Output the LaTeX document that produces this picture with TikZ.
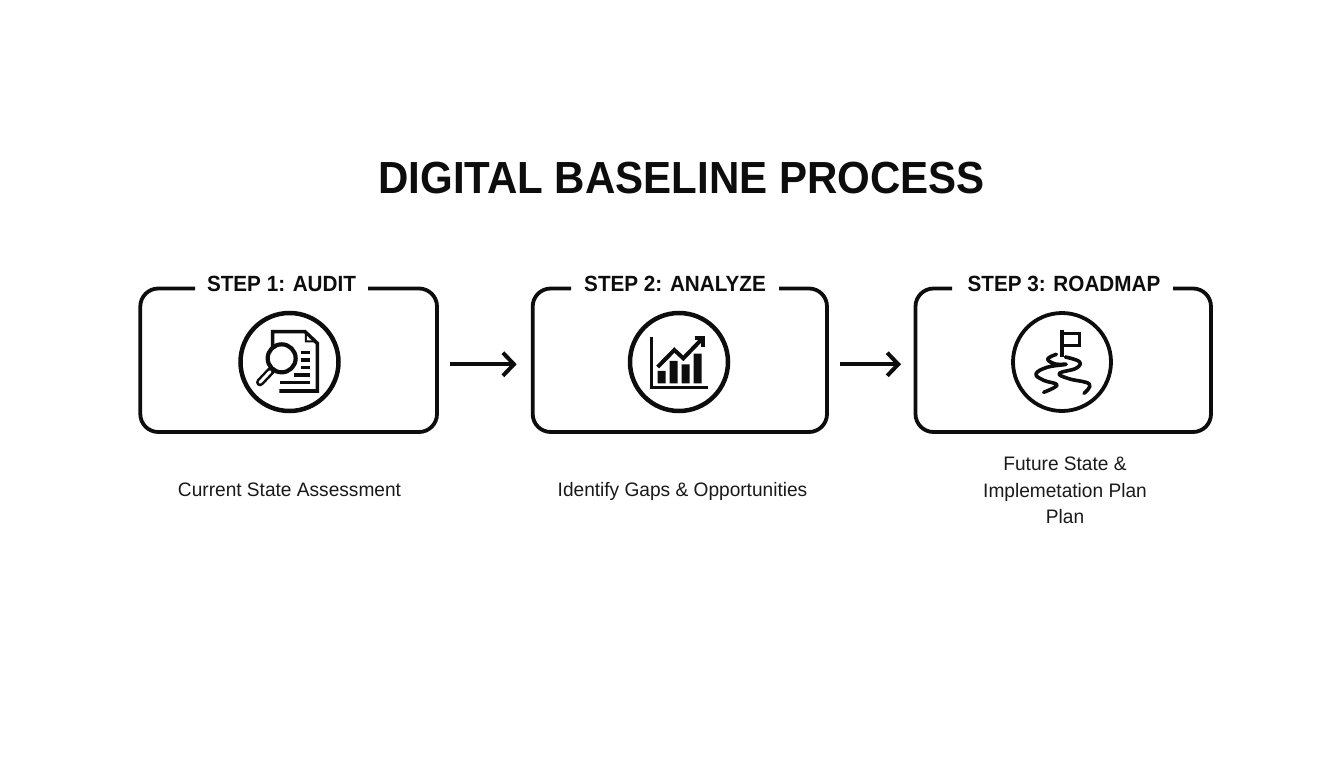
\documentclass[tikz,border=0pt]{standalone}
\usepackage{fontspec}
\setmainfont{Liberation Sans}
\newfontfamily\titlefont[FakeStretch=0.934]{Liberation Sans}
\newfontfamily\stepfont[FakeStretch=0.94]{Liberation Sans}
\newfontfamily\descfont[FakeStretch=0.98]{Liberation Sans}
\usetikzlibrary{arrows.meta}
\tikzset{
  stepbox/.style={minimum width=#1,minimum height=143.5pt,inner sep=0pt,outer sep=0pt},
  frame/.style={line width=3.8pt,rounded corners=18pt,black!95!white},
  steptitle/.style={font=\stepfont\bfseries\fontsize{22}{26}\selectfont,inner sep=0pt,text=black!95!white},
  desc/.style={font=\descfont\fontsize{19.5}{26.5}\selectfont,inner sep=0pt,align=center,text=black!90!white},
  ring/.style={circle,draw=black!95!white,line width=4.5pt,minimum size=98pt,inner sep=0pt},
  flow/.style={line width=4pt,black!95!white,-{Straight Barb[length=11pt,width=23pt,line width=4pt]}},
  ink/.style={line width=#1,black!95!white,line cap=round,line join=round},
  ink/.default=3pt
}
\begin{document}
\begin{tikzpicture}[x=1pt,y=-1pt]
\useasboundingbox (0,0) rectangle (1344,768);
\fill[white] (0,0) rectangle (1344,768);

\node[font=\titlefont\bfseries\fontsize{45}{50}\selectfont,inner sep=0pt,text=black!95!white] (title) at (681.5,178) {DIGITAL BASELINE PROCESS};

% boxes
\node[stepbox=296.7pt] (b1) at (288.65,360.25) {};
\node[stepbox=294.3pt] (b2) at (679.85,360.25) {};
\node[stepbox=295.5pt] (b3) at (1063.25,360.25) {};

\draw[frame] (195,288.5) -- (140.3,288.5) -- (140.3,432) -- (437,432) -- (437,288.5) -- (368,288.5);
\draw[frame] (571,288.5) -- (532.7,288.5) -- (532.7,432) -- (827,432) -- (827,288.5) -- (779,288.5);
\draw[frame] (952,288.5) -- (915.5,288.5) -- (915.5,432) -- (1211,432) -- (1211,288.5) -- (1173,288.5);

\node[steptitle] (t1) at (281.5,284) {STEP 1: AUDIT};
\node[steptitle] (t2) at (675,284) {STEP 2: ANALYZE};
\node[steptitle] (t3) at (1064,284) {STEP 3: ROADMAP};

% arrows
\draw[flow,shorten <=13pt,shorten >=16pt] ([yshift=-4pt]b1.east) -- ([yshift=-4pt]b2.west);
\draw[flow,shorten <=13pt,shorten >=14.5pt] ([yshift=-4pt]b2.east) -- ([yshift=-4pt]b3.west);

% rings
\node[ring] (r1) at (289.5,362) {};
\node[ring] (r2) at (679,362) {};
\node[ring,line width=3.8pt] (r3) at (1062,362) {};

% icon 1: document and magnifier
\begin{scope}[shift={(230,305)},x=0.3333pt,y=-0.3333pt]
  \draw[ink=3.6pt,line cap=butt,line join=miter] (128,125) -- (128,80) -- (225,80) -- (262,115) -- (262,258) -- (148,258);
  \fill[black!95!white] (225,82) -- (225,112) -- (258,112) -- cycle;
  \fill[white] (231,93) -- (231,106) -- (245,106) -- cycle;
  \foreach \ya/\xa in {142/212,165/212,187/212,210/192,232/150}
    \draw[line width=3.2pt,black!95!white] (\xa,\ya) -- (240,\ya);
  \draw[ink=4.2pt,fill=white] (155,160) circle (42);
  \draw[line width=8pt,black!95!white,line cap=round] (124,196) -- (90,232);
  \draw[line width=3pt,white,line cap=round] (120,200) -- (90,232);
\end{scope}

% icon 2: chart
\begin{scope}[shift={(620,305)},x=0.3333pt,y=-0.3333pt]
  \draw[ink=3.4pt,line cap=butt,line join=miter] (95,95) -- (95,248) -- (265,248);
  \fill[black!95!white] (113,198) rectangle (137,235) (149,168) rectangle (173,235) (185,178) rectangle (209,235) (221,146) rectangle (245,235);
  \draw[ink=4pt,line cap=butt,line join=miter] (113,186) -- (163,135) -- (190,160) -- (243,105);
  \draw[ink=4pt,line cap=butt,line join=miter] (224,99) -- (250,99) -- (250,125);
\end{scope}

% icon 3: road and flag
\begin{scope}[shift={(1002,305)},x=0.3333pt,y=-0.3333pt]
  \draw[ink=3.4pt,line cap=butt,line join=miter] (180,74) -- (180,155);
  \draw[ink=3.4pt,line cap=butt,line join=miter] (180,85) -- (232,85) -- (232,122) -- (180,122);
  \draw[ink=3.6pt] plot[smooth,tension=0.7] coordinates {(163,148) (137,162) (160,177) (192,178) (135,187) (102,207) (125,226) (165,240) (125,262)};
  \draw[ink=3.6pt] plot[smooth,tension=0.7] coordinates {(190,156) (232,170) (222,190) (172,205) (200,221) (262,237) (246,265)};
\end{scope}

% descriptions
\node[desc] (d1) at (289.5,490) {Current State Assessment};
\node[desc] (d2) at (682.5,491) {Identify Gaps \& Opportunities};
\node[desc] (d3) at (1065,490.5) {Future State \&\\Implemetation Plan\\Plan};
\end{tikzpicture}
\end{document}
